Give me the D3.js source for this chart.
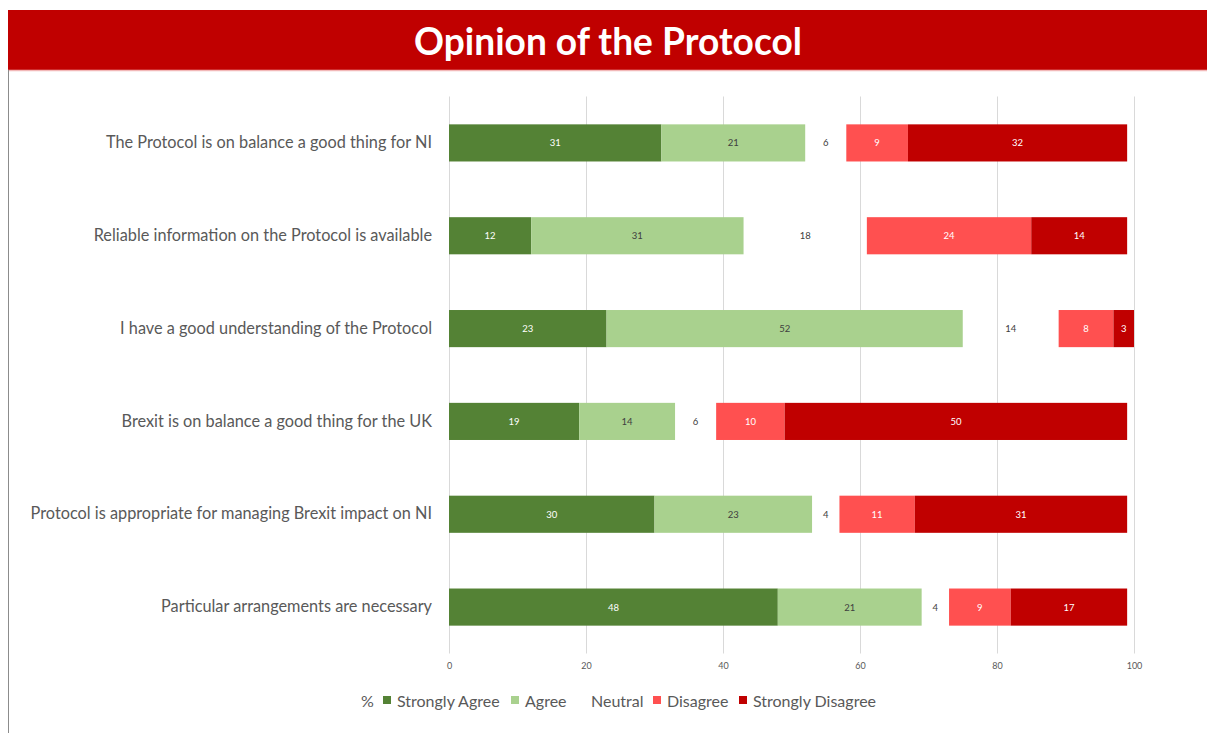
<!DOCTYPE html>
<html>
<head>
<meta charset="utf-8">
<script src="https://cdn.jsdelivr.net/npm/d3@7"></script>
<style>
  body { margin: 0; background: #fff; }
  text { font-family: Lato, "Open Sans", sans-serif; }
</style>
</head>
<body>
<div class="canvas"></div>
<script>
const dims = { width: 1207, height: 733 };
const plot = { left: 449, right: 1134, top: 96.5, bottom: 653.5 };

const statements = [
  'The Protocol is on balance a good thing for NI',
  'Reliable information on the Protocol is available',
  'I have a good understanding of the Protocol',
  'Brexit is on balance a good thing for the UK',
  'Protocol is appropriate for managing Brexit impact on NI',
  'Particular arrangements are necessary'
];
const responses = ['Strongly Agree', 'Agree', 'Neutral', 'Disagree', 'Strongly Disagree'];
const stronglyAgree = [31, 12, 23, 19, 30, 48];
const agree = [21, 31, 52, 14, 23, 21];
const neutral = [6, 18, 14, 6, 4, 4];
const disagree = [9, 24, 8, 10, 11, 9];
const stronglyDisagree = [32, 14, 3, 50, 31, 17];
const xTicks = [0, 20, 40, 60, 80, 100];

const colors = ['#548235', '#a9d18e', 'none', '#ff5050', '#c00000'];
const labelColors = ['#fff', '#404040', '#404040', '#fff', '#fff'];

const rows = statements.map((s, i) => ({
  statement: s,
  'Strongly Agree': stronglyAgree[i],
  'Agree': agree[i],
  'Neutral': neutral[i],
  'Disagree': disagree[i],
  'Strongly Disagree': stronglyDisagree[i]
}));

const svg = d3.select('.canvas')
  .append('svg')
  .attr('width', dims.width)
  .attr('height', dims.height);

// title banner
svg.append('rect')
  .attr('x', 8).attr('y', 10)
  .attr('width', dims.width - 8).attr('height', 60)
  .attr('fill', '#c00000');
svg.append('line')
  .attr('x1', 8).attr('x2', dims.width)
  .attr('y1', 70.5).attr('y2', 70.5)
  .attr('stroke', '#f2b8b8').attr('stroke-width', 1.5);
svg.append('text')
  .attr('x', 608).attr('y', 55)
  .attr('text-anchor', 'middle')
  .attr('fill', '#fff')
  .attr('font-size', 38)
  .attr('font-weight', 'bold')
  .attr('textLength', 388)
  .attr('lengthAdjust', 'spacingAndGlyphs')
  .text('Opinion of the Protocol');

// left frame line
svg.append('line')
  .attr('x1', 8.5).attr('x2', 8.5)
  .attr('y1', 70).attr('y2', dims.height)
  .attr('stroke', '#8c8c8c').attr('stroke-width', 1);

const x = d3.scaleLinear().domain([0, 100]).range([plot.left, plot.right]);
const y = d3.scaleBand()
  .domain(statements)
  .range([plot.top, plot.bottom])
  .paddingInner(0.6)
  .paddingOuter(0.3);

// gridlines
svg.append('g')
  .selectAll('line')
  .data(xTicks)
  .enter()
  .append('line')
  .attr('x1', d => x(d) + 0.5).attr('x2', d => x(d) + 0.5)
  .attr('y1', plot.top).attr('y2', plot.bottom)
  .attr('stroke', '#d9d9d9').attr('stroke-width', 1);

// x axis labels
const xAxis = svg.append('g')
  .attr('transform', `translate(0, ${plot.bottom})`)
  .call(d3.axisBottom(x).tickValues(xTicks).tickSize(0).tickPadding(9));
xAxis.select('.domain').remove();
xAxis.selectAll('text')
  .attr('fill', '#595959')
  .attr('font-size', 9)
  .style('font-family', 'Lato, sans-serif');

// y axis labels
const yAxis = svg.append('g')
  .attr('transform', `translate(${plot.left}, 0)`)
  .call(d3.axisLeft(y).tickSize(0).tickPadding(17));
yAxis.select('.domain').remove();
yAxis.selectAll('text')
  .attr('fill', '#595959')
  .attr('font-size', 16.3)
  .style('font-family', 'Lato, sans-serif');

const stack = d3.stack().keys(responses)(rows);

const layers = svg.append('g')
  .selectAll('g')
  .data(stack)
  .enter()
  .append('g');

layers.selectAll('rect')
  .data(d => d)
  .enter()
  .append('rect')
  .attr('x', d => x(d[0]))
  .attr('y', d => y(d.data.statement))
  .attr('width', d => x(d[1]) - x(d[0]))
  .attr('height', y.bandwidth())
  .attr('fill', function () { return colors[d3.select(this.parentNode).datum().index]; });

layers.selectAll('text')
  .data(d => d.map(p => ({ p, k: d.index })))
  .enter()
  .append('text')
  .attr('x', d => (x(d.p[0]) + x(d.p[1])) / 2)
  .attr('y', d => y(d.p.data.statement) + y.bandwidth() / 2 + 3.5)
  .attr('text-anchor', 'middle')
  .attr('font-size', 9.5)
  .attr('fill', d => labelColors[d.k])
  .text(d => d.p[1] - d.p[0]);

// legend
const legend = svg.append('g').attr('transform', 'translate(361, 707)');
legend.append('text')
  .attr('x', 0).attr('y', 0)
  .attr('font-size', 16).attr('fill', '#595959')
  .text('%');
const legendX = [22, 150, 216, 292, 378];
responses.forEach((r, i) => {
  const g = legend.append('g').attr('transform', `translate(${legendX[i]}, 0)`);
  g.append('rect')
    .attr('x', 0).attr('y', -11)
    .attr('width', 8).attr('height', 8)
    .attr('fill', colors[i]);
  g.append('text')
    .attr('x', 14).attr('y', 0)
    .attr('font-size', 16).attr('fill', '#595959')
    .text(r);
});
</script>
</body>
</html>
